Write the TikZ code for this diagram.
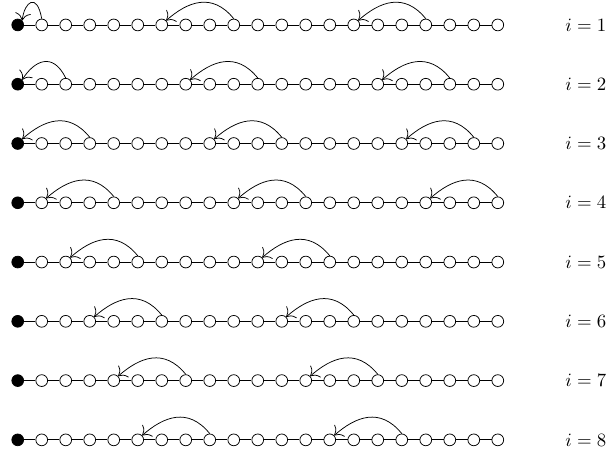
\documentclass[tikz,border=0pt]{standalone}
\usetikzlibrary{arrows.meta}
\begin{document}
\begin{tikzpicture}[
    >={To[scale=1.6]},
    x=0.4487cm, y=-1.108cm,
    dot/.style={circle, draw, minimum size=2.2mm, inner sep=0pt},
    filled/.style={dot, fill=black},
    lab/.style={inner sep=0pt}
]
  \useasboundingbox (-0.738,-0.421) rectangle (24.8,7.223);

  \foreach \i in {1,...,8} {
    % chain of sites
    \node[filled] (n\i-0) at (0,\i-1) {};
    \foreach \k [remember=\k as \j (initially 0)] in {1,...,20} {
      \node[dot] (n\i-\k) at (\k,\i-1) {};
      \draw (n\i-\j) -- (n\i-\k);
    }
    % jumps
    \foreach \m in {0,1,2} {
      \pgfmathtruncatemacro\s{\i+8*\m}
      \pgfmathtruncatemacro\t{max(\s-3,0)}
      \pgfmathtruncatemacro\d{\s-\t}
      \ifnum\s<21
        \draw[->] (n\i-\s.north) .. controls +({0.15-0.35*\d},-0.45) and +({0.4*\d-0.3},-0.32) .. (n\i-\t.north east);
      \fi
    }
    % label
    \node[lab] (l\i) at (23.67,\i-1) {$i=\i$};
  }
\end{tikzpicture}
\end{document}
